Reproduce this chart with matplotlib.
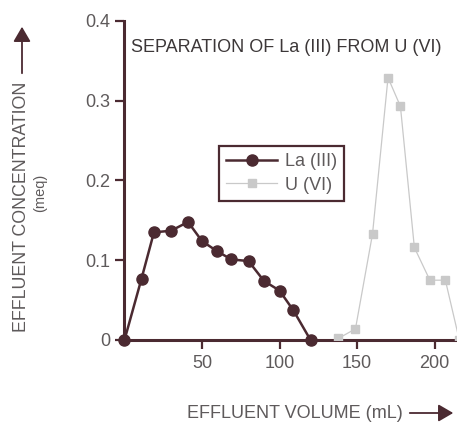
import matplotlib
matplotlib.use("Agg")
import matplotlib.pyplot as plt

plt.rcParams["font.family"] = ["Liberation Sans", "DejaVu Sans"]

# La (III) elution
la_volume = [0, 11, 19, 30, 41, 50, 60, 69, 80, 90, 100, 109, 120]
la_conc = [0.0, 0.077, 0.135, 0.137, 0.148, 0.124, 0.111, 0.101, 0.099, 0.074, 0.062, 0.037, 0.0]

# U (VI) elution
u_volume = [138, 149, 160, 170, 178, 187, 197, 207, 216]
u_conc = [0.002, 0.014, 0.133, 0.329, 0.293, 0.116, 0.075, 0.075, 0.0]

x_ticks = [50, 100, 150, 200]
y_ticks = [0, 0.1, 0.2, 0.3, 0.4]
y_tick_labels = ["0", "0.1", "0.2", "0.3", "0.4"]

DARK = "#4b2a31"
GREY_TXT = "#5e5a5b"
U_COLOR = "#c9c9c9"

fig = plt.figure(figsize=(4.57, 4.25), dpi=100)
ax = fig.add_axes([0.2724, 0.2, 0.7276, 0.7506])

ax.plot(u_volume, u_conc, color=U_COLOR, lw=0.9, marker="s", markersize=6,
        markerfacecolor=U_COLOR, markeredgecolor=U_COLOR, label="U (VI)", zorder=2)
ax.plot(la_volume, la_conc, color=DARK, lw=1.8, marker="o", markersize=8,
        markerfacecolor=DARK, markeredgecolor=DARK, label="La (III)",
        clip_on=False, zorder=3)

ax.set_xlim(0, 214.5)
ax.set_ylim(0, 0.4)
ax.set_xticks(x_ticks)
ax.set_yticks(y_ticks)
ax.set_yticklabels(y_tick_labels)

for side in ["top", "right"]:
    ax.spines[side].set_visible(False)
for side in ["left", "bottom"]:
    ax.spines[side].set_color(DARK)
    ax.spines[side].set_linewidth(2.2)
    ax.spines[side].set_zorder(1)

ax.tick_params(axis="both", colors=DARK, width=1.6, length=6.5, direction="out",
               labelsize=13, labelcolor=GREY_TXT, pad=4)

ax.text(0.02, 0.918, "SEPARATION OF La (III) FROM U (VI)", transform=ax.transAxes,
        fontsize=13, color="#3c3738", ha="left", va="center")

handles, labels = ax.get_legend_handles_labels()
leg = fig.legend(handles[::-1], labels[::-1], loc="upper left",
                 bbox_to_anchor=(219 / 457, 1 - 146 / 425), fancybox=False,
                 framealpha=1, edgecolor=DARK, fontsize=13, borderaxespad=0,
                 handlelength=2.8, handletextpad=0.45, borderpad=0.4,
                 labelspacing=0.35)
leg.get_frame().set_linewidth(1.6)
for t in leg.get_texts():
    t.set_color(GREY_TXT)

# axis titles with arrows
fig.text(187 / 457, 1 - 413 / 425, "EFFLUENT VOLUME (mL)", fontsize=13,
         color=GREY_TXT, ha="left", va="center")
fig.add_artist(matplotlib.patches.FancyArrowPatch(
    (407 / 457, 1 - 413 / 425), (456 / 457, 1 - 413 / 425),
    transform=fig.transFigure, arrowstyle="-|>,head_length=6,head_width=3.5",
    color=DARK, lw=1.3, mutation_scale=1.5))

fig.text(22 / 457, 1 - 332 / 425, "EFFLUENT CONCENTRATION", fontsize=12.8,
         color=GREY_TXT, rotation=90, ha="center", va="bottom")
fig.text(40 / 457, 1 - 193 / 425, "(meq)", fontsize=10.5,
         color=GREY_TXT, rotation=90, ha="center", va="center")
fig.add_artist(matplotlib.patches.FancyArrowPatch(
    (22 / 457, 1 - 76 / 425), (22 / 457, 1 - 24 / 425),
    transform=fig.transFigure, arrowstyle="-|>,head_length=6,head_width=3.5",
    color=DARK, lw=1.3, mutation_scale=1.5))

fig.savefig("out.png", dpi=100)
